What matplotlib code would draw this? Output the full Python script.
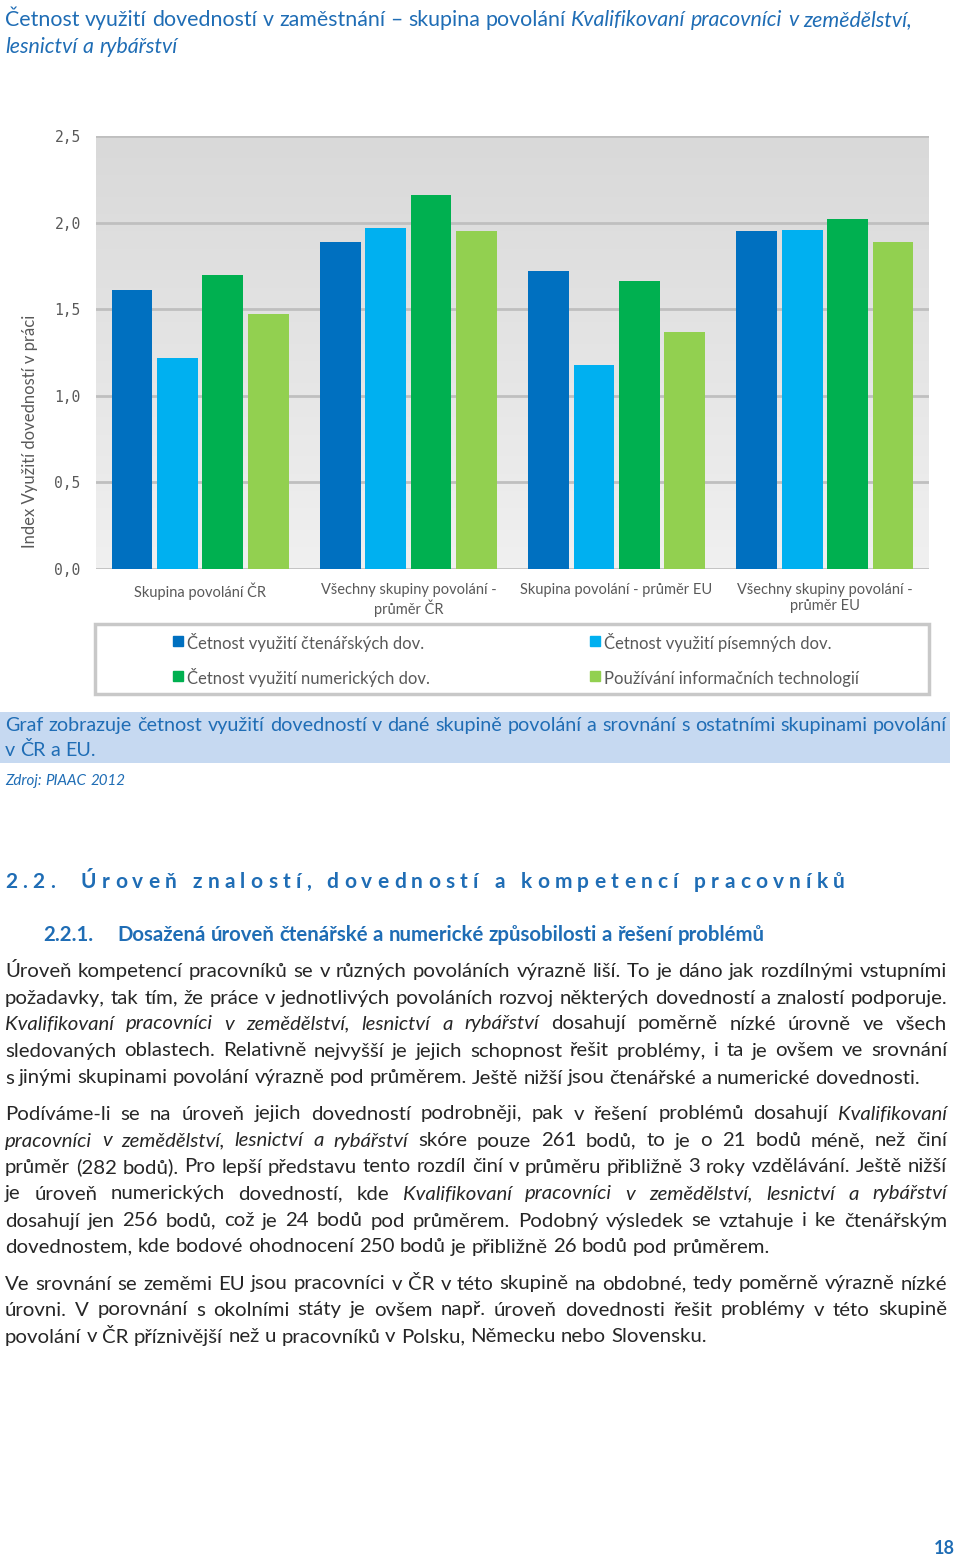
import matplotlib
matplotlib.use("Agg")
import matplotlib.pyplot as plt
import numpy as np
from matplotlib.patches import Rectangle
from matplotlib.lines import Line2D
from matplotlib.colors import LinearSegmentedColormap

plt.rcParams['font.family'] = ['Lato', 'DejaVu Sans']

# chart data (index values)
groups = ["Skupina povolání ČR", "Všechny skupiny povolání -\nprůměr ČR",
          "Skupina povolání - průměr EU", "Všechny skupiny povolání -\nprůměr EU"]
series = ["Četnost využití čtenářských dov.", "Četnost využití písemných dov.",
          "Četnost využití numerických dov.", "Používání informačních technologií"]
reading = [1.61, 1.89, 1.72, 1.95]
writing = [1.22, 1.97, 1.18, 1.96]
numeracy = [1.70, 2.16, 1.66, 2.02]
ict = [1.47, 1.95, 1.37, 1.89]
yticks = [0.0, 0.5, 1.0, 1.5, 2.0, 2.5]
colors = ["#0070c0", "#00b0f0", "#00b050", "#92d050"]

BLUE = "#1f6db5"
TXT = "#262626"
GREY = "#595959"

fig = plt.figure(figsize=(9.6, 15.59), dpi=100)
page = fig.add_axes([0, 0, 1, 1])
page.set_xlim(0, 960)
page.set_ylim(1559, 0)
page.axis("off")
renderer = fig.canvas.get_renderer()


def text_w(s, **kw):
    t = page.text(0, 0, s, **kw)
    w = t.get_window_extent(renderer).width
    t.remove()
    return w


def words_of(runs):
    out = []
    for s, it in runs:
        for w in s.split():
            out.append((w, "italic" if it else "normal"))
    return out


def natural_w(runs, size, **kw):
    ws = words_of(runs)
    sp = text_w("a a", fontsize=size, **kw) - text_w("aa", fontsize=size, **kw)
    return sum(text_w(w, fontsize=size, fontstyle=st, **kw) for w, st in ws) + sp * (len(ws) - 1)


def fit(runs, target, **kw):
    return 10 * target / natural_w(runs, 10, **kw)


def draw_line(runs, y, size, color, x0=5, x1=None, **kw):
    ws = words_of(runs)
    widths = [text_w(w, fontsize=size, fontstyle=st, **kw) for w, st in ws]
    if x1 is None or len(ws) < 2:
        gap = text_w("a a", fontsize=size, **kw) - text_w("aa", fontsize=size, **kw)
    else:
        gap = (x1 - x0 - sum(widths)) / (len(ws) - 1)
    x = x0
    for (w, st), wd in zip(ws, widths):
        page.text(x, y, w, fontsize=size, fontstyle=st, color=color,
                  ha="left", va="center", **kw)
        x += wd + gap


def draw_spaced(s, x0, x1, y, size, color, **kw):
    sp = text_w("a a", fontsize=size, **kw) - text_w("aa", fontsize=size, **kw)
    widths = [sp if c == " " else text_w(c, fontsize=size, **kw) for c in s]
    track = (x1 - x0 - sum(widths)) / (len(s) - 1)
    x = x0
    for c, wd in zip(s, widths):
        if c != " ":
            page.text(x, y, c, fontsize=size, color=color, ha="left", va="center", **kw)
        x += wd + track


# title
t1 = [("Četnost využití dovedností v zaměstnání – skupina povolání", False),
      ("Kvalifikovaní pracovníci v zemědělství,", True)]
ts = fit(t1, 907)
draw_line(t1, 20, ts, BLUE)
draw_line([("lesnictví a rybářství", True)], 47, ts, BLUE)

# chart
ax = fig.add_axes([96 / 960, 1 - 569 / 1559, 833 / 960, 433 / 1559])
cmap = LinearSegmentedColormap.from_list("bg", ["#f0f0f0", "#d9d9d9"])
ax.imshow(np.linspace(0, 1, 100)[:, None], extent=(-0.5, 3.5, 0, 2.5), origin="lower",
          aspect="auto", cmap=cmap, zorder=0)
x = np.arange(len(groups))
step, width = 0.218, 0.196
for i, (vals, c, lab) in enumerate(zip([reading, writing, numeracy, ict], colors, series)):
    ax.bar(x + (i - 1.5) * step, vals, width, color=c, label=lab, zorder=2)
ax.set_xlim(-0.5, 3.5)
ax.set_ylim(0, 2.5)
ax.set_yticks(yticks)
ax.set_yticklabels([f"{v:.1f}".replace(".", ",") for v in yticks],
                   family="DejaVu Sans Mono", fontsize=10.5, color=GREY)
ax.set_xticks(x)
ax.set_xticklabels(groups, fontsize=10.5, color=GREY, linespacing=1.15)
ax.tick_params(length=0)
ax.tick_params(axis="y", pad=11)
ax.tick_params(axis="x", pad=10)
ax.yaxis.grid(True, color="#bfbfbf", lw=2)
ax.set_axisbelow(True)
for s in ax.spines.values():
    s.set_visible(False)

page.text(30, 431, "Index Využití dovedností v práci", rotation=90, ha="center",
          va="center", fontsize=12, color=GREY)

page.add_patch(Rectangle((95, 624), 834, 70, fill=False, ec="#c8c8c8", lw=2.5))
order = [0, 2, 1, 3]
proxies = [Line2D([], [], ls="", marker="s", markersize=7, color=colors[i]) for i in order]
leg = ax.legend(proxies, [series[i] for i in order],
                loc="center", bbox_to_anchor=(516 / 960, 1 - 661 / 1559),
                bbox_transform=fig.transFigure, ncol=2, frameon=False,
                fontsize=12, columnspacing=9.6, labelspacing=0.85,
                handlelength=0.6, handleheight=1.5, handletextpad=0.25)
for t in leg.get_texts():
    t.set_color(GREY)

# caption
page.add_patch(Rectangle((0, 712), 950, 51, color="#c6d9f1", lw=0))
c1 = [("Graf zobrazuje četnost využití dovedností v dané skupině povolání a srovnání s ostatními skupinami povolání", False)]
cs = fit(c1, 940)
draw_line(c1, 725, cs, BLUE, x0=5, x1=947)
draw_line([("v ČR a EU.", False)], 750, cs, BLUE)
zs = fit([("Zdroj: PIAAC 2012", True)], 120)
draw_line([("Zdroj: PIAAC 2012", True)], 781, zs, BLUE)

# headings
draw_spaced("2.2.  Úroveň znalostí, dovedností a kompetencí pracovníků", 5, 845, 882, 15,
            BLUE, fontweight="bold")
sub = [("Dosažená úroveň čtenářské a numerické způsobilosti a řešení problémů", False)]
ss = fit(sub, 650, fontweight="bold")
draw_line([("2.2.1.", False)], 935, ss, BLUE, x0=43, fontweight="bold")
draw_line(sub, 935, ss, BLUE, x0=117, fontweight="bold")

# body text: (runs, y, justified)
body = [
    ([("Úroveň kompetencí pracovníků se v různých povoláních výrazně liší. To je dáno jak rozdílnými vstupními", False)], 971, True),
    ([("požadavky, tak tím, že práce v jednotlivých povoláních rozvoj některých dovedností a znalostí podporuje.", False)], 998, True),
    ([("Kvalifikovaní pracovníci v zemědělství, lesnictví a rybářství", True), ("dosahují poměrně nízké úrovně ve všech", False)], 1024, True),
    ([("sledovaných oblastech. Relativně nejvyšší je jejich schopnost řešit problémy, i ta je ovšem ve srovnání", False)], 1051, True),
    ([("s jinými skupinami povolání výrazně pod průměrem. Ještě nižší jsou čtenářské a numerické dovednosti.", False)], 1078, False),
    ([("Podíváme-li se na úroveň jejich dovedností podrobněji, pak v řešení problémů dosahují", False), ("Kvalifikovaní", True)], 1114, True),
    ([("pracovníci v zemědělství, lesnictví a rybářství", True), ("skóre pouze 261 bodů, to je o 21 bodů méně, než činí", False)], 1141, True),
    ([("průměr (282 bodů). Pro lepší představu tento rozdíl činí v průměru přibližně 3 roky vzdělávání. Ještě nižší", False)], 1167, True),
    ([("je úroveň numerických dovedností, kde", False), ("Kvalifikovaní pracovníci v zemědělství, lesnictví a rybářství", True)], 1194, True),
    ([("dosahují jen 256 bodů, což je 24 bodů pod průměrem. Podobný výsledek se vztahuje i ke čtenářským", False)], 1221, True),
    ([("dovednostem, kde bodové ohodnocení 250 bodů je přibližně 26 bodů pod průměrem.", False)], 1247, False),
    ([("Ve srovnání se zeměmi EU jsou pracovníci v ČR v této skupině na obdobné, tedy poměrně výrazně nízké", False)], 1284, True),
    ([("úrovni. V porovnání s okolními státy je ovšem např. úroveň dovednosti řešit problémy v této skupině", False)], 1310, True),
    ([("povolání v ČR příznivější než u pracovníků v Polsku, Německu nebo Slovensku.", False)], 1337, False),
]
bs = fit(body[1][0], 938)
for runs, y, just in body:
    draw_line(runs, y, bs, TXT, x0=5, x1=947 if just else None)

page.text(955, 1548, "18", ha="right", va="center", fontsize=13, fontweight="bold", color=BLUE)

fig.savefig("out.png", dpi=100)
